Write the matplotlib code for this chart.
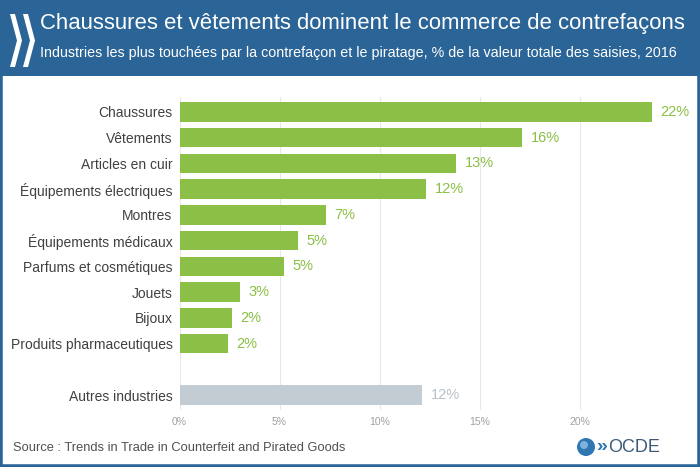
import matplotlib
matplotlib.use("Agg")
import matplotlib.pyplot as plt
from matplotlib.patches import Rectangle, Polygon, Ellipse

categories = ["Chaussures", "Vêtements", "Articles en cuir", "Équipements électriques",
              "Montres", "Équipements médicaux", "Parfums et cosmétiques", "Jouets",
              "Bijoux", "Produits pharmaceutiques"]
values = [23.6, 17.1, 13.8, 12.3, 7.3, 5.9, 5.2, 3.0, 2.6, 2.4]
value_labels = ["22%", "16%", "13%", "12%", "7%", "5%", "5%", "3%", "2%", "2%"]
other_category = "Autres industries"
other_value = 12.1
other_label = "12%"
xticks = [0, 5, 10, 15, 20]
xtick_labels = ["0%", "5%", "10%", "15%", "20%"]

title = "Chaussures et vêtements dominent le commerce de contrefaçons"
subtitle = "Industries les plus touchées par la contrefaçon et le piratage, % de la valeur totale des saisies, 2016"
source = "Source : Trends in Trade in Counterfeit and Pirated Goods"

W, H = 700, 467
BLUE = "#2b6597"
GREEN = "#8bbf45"
GREY_BAR = "#c4ccd3"
FONT = ["Liberation Sans", "DejaVu Sans"]
plt.rcParams["font.family"] = FONT

fig = plt.figure(figsize=(W / 100, H / 100), dpi=100)
fig.patch.set_facecolor("white")

def fx(px):
    return px / W

def fy(py):
    return 1 - py / H

# frame and header
fig.add_artist(Rectangle((0, 0), 1, 1, transform=fig.transFigure, facecolor="none",
                         edgecolor=BLUE, linewidth=4, zorder=0))
fig.add_artist(Rectangle((0, fy(76)), 1, 76 / H, transform=fig.transFigure,
                         facecolor=BLUE, edgecolor="none", zorder=1))

# chevron logo
def chevron(x0, w, t, y0, y1):
    ym = (y0 + y1) / 2
    pts = [(x0, y0), (x0 + t, y0), (x0 + w, ym), (x0 + t, y1), (x0, y1), (x0 + w - t, ym)]
    return Polygon([(fx(a), fy(b)) for a, b in pts], closed=True, transform=fig.transFigure,
                   facecolor="white", edgecolor="none", zorder=2)

fig.add_artist(chevron(10, 12, 5, 14, 67))
fig.add_artist(chevron(23, 12, 5, 14, 67))

fig.text(fx(40), fy(23), title, color="white", fontsize=15.9, va="center", ha="left", zorder=3)
fig.text(fx(40), fy(53), subtitle, color="white", fontsize=10.3, va="center", ha="left",
         zorder=3)

# axes: 0% at x=179.5, 20 px per %
left_px, right_px = 179.5, 679.5
top_px, bot_px = 97, 410
ax = fig.add_axes([fx(left_px), fy(bot_px), (right_px - left_px) / W, (bot_px - top_px) / H])
ax.set_xlim(0, 25)
ax.set_ylim(11.58, -0.58)
ax.set_facecolor("none")

ypos = list(range(len(categories)))
other_pos = len(categories) + 1
ax.barh(ypos, values, height=0.76, color=GREEN, zorder=2)
ax.barh([other_pos], [other_value], height=0.76, color=GREY_BAR, zorder=2)

for y, v, lab in zip(ypos, values, value_labels):
    ax.text(v + 0.45, y, lab, color=GREEN, fontsize=10.5, va="center", ha="left")
ax.text(other_value + 0.45, other_pos, other_label, color="#b8c0c8", fontsize=10.5,
        va="center", ha="left")

ax.set_yticks(ypos + [other_pos])
ax.set_yticklabels(categories + [other_category], fontsize=10, color="#404040")
ax.set_xticks(xticks)
ax.set_xticklabels(xtick_labels, fontsize=7.5, color="#a0a0a0")
ax.tick_params(axis="both", length=0)
ax.tick_params(axis="y", pad=5)
ax.tick_params(axis="x", pad=5)
for s in ax.spines.values():
    s.set_visible(False)
ax.grid(axis="x", color="#e8e8e8", linewidth=0.8, zorder=0)
ax.set_axisbelow(True)

fig.text(fx(13), fy(448), source, color="#505050", fontsize=9.3, va="center", ha="left")

# OECD logo
fig.add_artist(Ellipse((fx(586), fy(447)), 18 / W, 18 / H, transform=fig.transFigure,
                       facecolor="#2f77b3", edgecolor="none"))
fig.add_artist(Ellipse((fx(584), fy(445)), 8 / W, 8 / H, transform=fig.transFigure,
                       facecolor="#7fb2d9", edgecolor="none"))
fig.text(fx(596), fy(447), "»", color="#2f77b3", fontsize=14, va="center", ha="left",
         fontweight="bold")
fig.text(fx(608), fy(448), "OCDE", color="#3d5a78", fontsize=13, va="center", ha="left")

fig.savefig("out.png", dpi=100, facecolor="white")
